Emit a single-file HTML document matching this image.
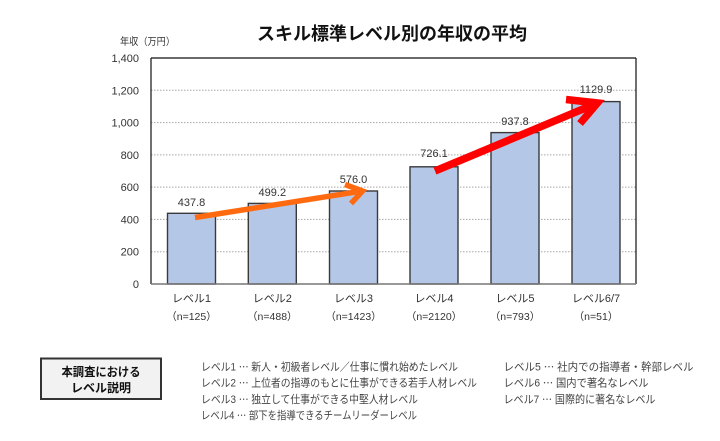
<!DOCTYPE html>
<html><head><meta charset="utf-8"><style>
html,body{margin:0;padding:0;background:#fff;}
svg{display:block;}
text{font-family:"Liberation Sans","Noto Sans CJK JP",sans-serif;}
</style></head><body>
<svg width="720" height="441" viewBox="0 0 720 441" xmlns="http://www.w3.org/2000/svg">
<rect width="720" height="441" fill="#fff"/>
<!-- title -->
<text x="257" y="40" font-size="18" font-weight="bold" fill="#111" textLength="270" lengthAdjust="spacingAndGlyphs">スキル標準レベル別の年収の平均</text>
<text x="120" y="45" font-size="10" fill="#333" textLength="55" lengthAdjust="spacingAndGlyphs">年収（万円）</text>
<!-- gridlines -->
<g stroke="#a8a8a8" stroke-width="1" stroke-dasharray="1.5,1.5">
<line x1="151" y1="90.3" x2="636" y2="90.3"/>
<line x1="151" y1="122.6" x2="636" y2="122.6"/>
<line x1="151" y1="154.9" x2="636" y2="154.9"/>
<line x1="151" y1="187.1" x2="636" y2="187.1"/>
<line x1="151" y1="219.4" x2="636" y2="219.4"/>
<line x1="151" y1="251.7" x2="636" y2="251.7"/>
</g>
<!-- frame -->
<line x1="151" y1="58" x2="636" y2="58" stroke="#111" stroke-width="1.2"/>
<line x1="636" y1="58" x2="636" y2="284" stroke="#111" stroke-width="1.2"/>
<line x1="151" y1="58" x2="151" y2="284" stroke="#111" stroke-width="1.2"/>
<!-- y ticks -->
<g font-size="11" fill="#333" text-anchor="end">
<text x="139" y="62">1,400</text>
<text x="139" y="94.3">1,200</text>
<text x="139" y="126.6">1,000</text>
<text x="139" y="158.9">800</text>
<text x="139" y="191.1">600</text>
<text x="139" y="223.4">400</text>
<text x="139" y="255.7">200</text>
<text x="139" y="288">0</text>
</g>
<!-- bars -->
<g fill="#b4c7e7" stroke="#3a3a3a" stroke-width="1.4">
<rect x="167.5" y="213.3" width="48" height="70.7"/>
<rect x="248.3" y="203.4" width="48" height="80.6"/>
<rect x="329.5" y="191" width="48" height="93"/>
<rect x="410" y="166.8" width="48" height="117.2"/>
<rect x="491" y="132.6" width="48" height="151.4"/>
<rect x="572" y="101.6" width="48" height="182.4"/>
</g>
<line x1="151" y1="284" x2="636" y2="284" stroke="#777" stroke-width="1.5"/>
<!-- value labels -->
<g font-size="11" fill="#333" text-anchor="middle">
<text x="191.5" y="206">437.8</text>
<text x="272.3" y="196">499.2</text>
<text x="353.5" y="183">576.0</text>
<text x="434" y="157">726.1</text>
<text x="515" y="125">937.8</text>
<text x="596" y="93">1129.9</text>
</g>
<!-- x labels -->
<g font-size="11" fill="#333" text-anchor="middle">
<text x="191.5" y="302">レベル1</text>
<text x="272.3" y="302">レベル2</text>
<text x="353.5" y="302">レベル3</text>
<text x="434" y="302">レベル4</text>
<text x="515" y="302">レベル5</text>
<text x="596" y="302">レベル6/7</text>
</g>
<g font-size="10.5" fill="#333" text-anchor="middle">
<text x="191.5" y="320">（n=125）</text>
<text x="272.3" y="320">（n=488）</text>
<text x="353.5" y="320">（n=1423）</text>
<text x="434" y="320">（n=2120）</text>
<text x="515" y="320">（n=793）</text>
<text x="596" y="320">（n=51）</text>
</g>
<!-- arrows -->
<g fill="none" stroke="#ff6a10" stroke-width="5.5" stroke-linecap="butt" stroke-linejoin="miter">
<line x1="195" y1="217.5" x2="361" y2="191.2"/>
<polyline points="345,184.5 362.5,191 351,203.5"/>
</g>
<g fill="none" stroke="#ff0000" stroke-width="7.5" stroke-linecap="butt" stroke-linejoin="miter">
<line x1="435" y1="171" x2="595" y2="104"/>
<polyline points="566,99.5 597.5,103 580,123.5"/>
</g>
<!-- legend box -->
<rect x="41" y="358.5" width="120" height="40.5" fill="#f2f2f2" stroke="#333" stroke-width="2"/>
<g font-size="12" font-weight="bold" fill="#111" text-anchor="middle">
<text x="101" y="376" textLength="79" lengthAdjust="spacingAndGlyphs">本調査における</text>
<text x="101" y="392">レベル説明</text>
</g>
<g font-size="11" fill="#444">
<text x="201" y="370.5" textLength="257" lengthAdjust="spacingAndGlyphs">レベル1 ⋯ 新人・初級者レベル／仕事に慣れ始めたレベル</text>
<text x="201" y="386.5" textLength="276" lengthAdjust="spacingAndGlyphs">レベル2 ⋯ 上位者の指導のもとに仕事ができる若手人材レベル</text>
<text x="201" y="403" textLength="217" lengthAdjust="spacingAndGlyphs">レベル3 ⋯ 独立して仕事ができる中堅人材レベル</text>
<text x="201" y="419" textLength="216" lengthAdjust="spacingAndGlyphs">レベル4 ⋯ 部下を指導できるチームリーダーレベル</text>
<text x="503.5" y="370.5" textLength="190" lengthAdjust="spacingAndGlyphs">レベル5 ⋯ 社内での指導者・幹部レベル</text>
<text x="503.5" y="386.5" textLength="145" lengthAdjust="spacingAndGlyphs">レベル6 ⋯ 国内で著名なレベル</text>
<text x="503.5" y="403" textLength="152" lengthAdjust="spacingAndGlyphs">レベル7 ⋯ 国際的に著名なレベル</text>
</g>
</svg>
</body></html>
